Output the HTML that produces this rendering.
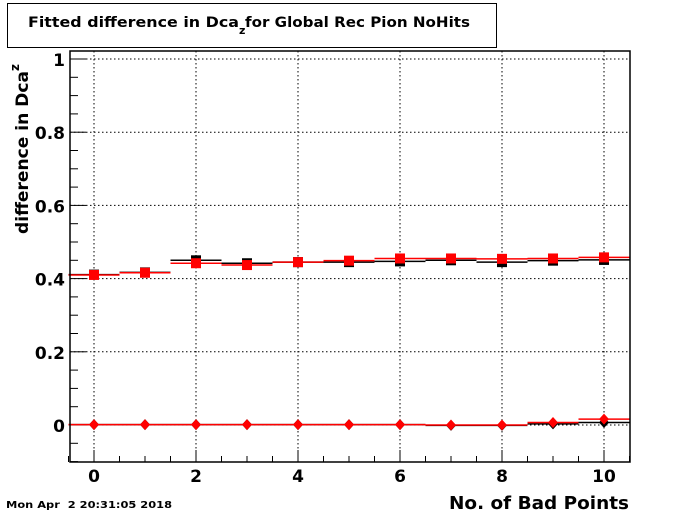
<!DOCTYPE html>
<html><head><meta charset="utf-8"><style>
body{margin:0;background:#fff;width:700px;height:514px;overflow:hidden;font-family:"DejaVu Sans","Liberation Sans",sans-serif}
</style></head><body>
<svg id="c" width="700" height="514" xmlns="http://www.w3.org/2000/svg" font-family="DejaVu Sans, Liberation Sans, sans-serif">
<rect x="7.5" y="3.5" width="489" height="44" fill="#fff" stroke="#000"/>
<text x="28" y="27" font-size="14" font-weight="bold"><tspan textLength="211" lengthAdjust="spacingAndGlyphs">Fitted difference in Dca</tspan><tspan dy="7" font-size="11">z</tspan><tspan dy="-7" x="245" textLength="225" lengthAdjust="spacingAndGlyphs">for Global Rec Pion NoHits</tspan></text>
<g id="grid"></g>
<g id="axes"></g>
<g id="series"></g>
<rect x="70" y="51" width="560" height="411" fill="none" stroke="#000" stroke-width="1.5"/>
<text x="449" y="509" font-size="18" font-weight="bold" textLength="180" lengthAdjust="spacingAndGlyphs">No. of Bad Points</text>
<text transform="translate(28,234) rotate(-90)" font-size="17" font-weight="bold"><tspan textLength="163" lengthAdjust="spacingAndGlyphs">difference in Dca</tspan><tspan dy="-9" font-size="12">z</tspan></text>
<text x="6" y="508" font-size="10" font-weight="bold" textLength="166" lengthAdjust="spacingAndGlyphs" xml:space="preserve">Mon Apr  2 20:31:05 2018</text>
</svg>
<script>
const bins=[0,1,2,3,4,5,6,7,8,9,10];
const blackHigh=[0.411,0.417,0.450,0.442,0.445,0.445,0.447,0.450,0.445,0.449,0.451];
const redHigh=[0.410,0.416,0.442,0.437,0.445,0.449,0.455,0.455,0.454,0.455,0.458];
const blackLow=[0.001,0.001,0.001,0.001,0.001,0.001,0.001,-0.001,-0.001,0.003,0.007];
const redLow=[0.001,0.001,0.001,0.001,0.001,0.001,0.001,0.000,0.000,0.007,0.016];
const xTicks=[0,2,4,6,8,10];
const yTicks=[0,0.2,0.4,0.6,0.8,1];
const NS="http://www.w3.org/2000/svg";
const X=v=>94+(v)*51, Y=v=>425-v*366;
function mk(p,t,a){const e=document.createElementNS(NS,t);for(const k in a)e.setAttribute(k,a[k]);p.appendChild(e);return e;}
const g=document.getElementById('grid'),ax=document.getElementById('axes'),s=document.getElementById('series');
xTicks.forEach(v=>{const l=mk(g,'line',{x1:X(v),x2:X(v),y1:51,y2:462,stroke:'#000','stroke-dasharray':'1.5,2.5','stroke-width':1});

const t=mk(ax,'text',{x:X(v),y:482,'font-size':17,'font-weight':'bold','text-anchor':'middle'});t.textContent=v;
});
yTicks.forEach(v=>{const l=mk(g,'line',{x1:70,x2:630,y1:Y(v),y2:Y(v),stroke:'#000','stroke-dasharray':'1.5,2.5','stroke-width':1});

const t=mk(ax,'text',{x:65,y:Y(v)+7,'font-size':17,'font-weight':'bold','text-anchor':'end'});t.textContent=(v===0||v===1)?v:v.toFixed(1);
});
for(let i=0;i<=22;i++){const v=-0.5+i*0.5;const major=Math.abs(v%2)<1e-9;
const l=mk(ax,'line',{x1:X(v),x2:X(v),y1:462,y2:major?450:456,stroke:'#000'});
}
for(let i=-2;i<=20;i++){const v=i*0.05;const major=i%4===0;
const l=mk(ax,'line',{x1:70,x2:major?86:78,y1:Y(v),y2:Y(v),stroke:'#000'});
}
function series(vals,col,shape,name){
vals.forEach((v,i)=>{const b=bins[i];
const l=mk(s,'line',{x1:X(b-0.5),x2:X(b+0.5),y1:Y(v),y2:Y(v),stroke:col,'stroke-width':1.5});

let m;
if(shape==='sq')m=mk(s,'rect',{x:X(b)-5,y:Y(v)-5,width:10,height:10,fill:col});
else{const cx=X(b),cy=Y(v);m=mk(s,'polygon',{points:`${cx},${cy-5.5} ${cx+5},${cy} ${cx},${cy+5.5} ${cx-5},${cy}`,fill:col});}
});}
series(blackHigh,'#000','sq','black-high');
series(blackLow,'#000','di','black-low');
series(redHigh,'#f00','sq','red-high');
series(redLow,'#f00','di','red-low');
</script>
</body></html>
